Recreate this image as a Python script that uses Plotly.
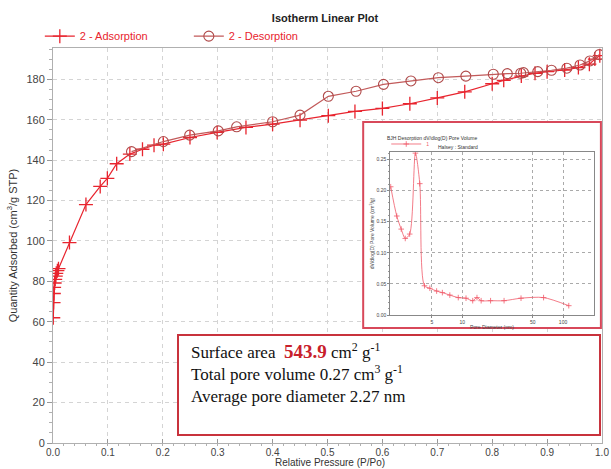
import plotly.graph_objects as go

# ---- main isotherm data ----
ads_p = [0.0005, 0.001, 0.0015, 0.002, 0.003, 0.004, 0.005, 0.006, 0.008, 0.010,
         0.030, 0.060, 0.086, 0.099, 0.116, 0.140, 0.163, 0.184, 0.201, 0.2495,
         0.299, 0.3515, 0.400, 0.450, 0.5015, 0.550, 0.600, 0.650, 0.700, 0.750,
         0.800, 0.821, 0.853, 0.878, 0.900, 0.932, 0.957, 0.977, 0.987, 0.996]
ads_q = [62.0, 69.5, 74.0, 77.0, 79.2, 81.0, 82.6, 84.0, 85.3, 86.3,
         99.2, 118.0, 127.0, 131.0, 138.2, 143.0, 145.4, 147.4, 147.9, 151.2,
         153.7, 156.2, 157.8, 159.8, 162.0, 164.1, 165.6, 167.9, 170.8, 173.8,
         177.8, 179.5, 181.6, 183.0, 183.8, 184.6, 185.8, 187.5, 190.0, 191.7]

des_p = [0.995, 0.978, 0.960, 0.936, 0.908, 0.883, 0.857, 0.852, 0.8275, 0.802,
         0.752, 0.702, 0.652, 0.602, 0.552, 0.5015, 0.450, 0.400, 0.3345, 0.301,
         0.249, 0.201, 0.143]
des_q = [192.2, 189.1, 187.1, 185.5, 184.5, 183.8, 183.3, 183.0, 182.8, 182.5,
         181.6, 180.8, 179.2, 177.5, 174.1, 171.6, 162.3, 159.0, 156.5, 154.5,
         152.4, 149.2, 144.2]

# ---- inset BJH pore distribution ----
pore_d = [1.95, 2.24, 2.48, 2.72, 3.01, 3.43, 3.79, 4.22, 4.77, 5.57, 6.35, 7.53,
          9.13, 10.9, 12.7, 14.0, 15.4, 19.1, 26.0, 38.3, 64.1, 114]
pore_v = [0.206, 0.159, 0.138, 0.123, 0.130, 0.260, 0.211, 0.047, 0.043, 0.0385,
          0.036, 0.032, 0.028, 0.027, 0.023, 0.028, 0.023, 0.023, 0.023, 0.027,
          0.028, 0.015]

x_ticks = [0.0, 0.1, 0.2, 0.3, 0.4, 0.5, 0.6, 0.7, 0.8, 0.9, 1.0]
y_ticks = [0, 20, 40, 60, 80, 100, 120, 140, 160, 180]
inset_x_ticks = [5, 10, 50, 100]
inset_y_ticks = [0.00, 0.05, 0.10, 0.15, 0.20, 0.25]

Y_MAX = 195.5
RED = "#e8242e"
BROWN = "#b04a4a"
GRID = "#d4d4d4"
FONT = "Liberation Sans"

fig = go.Figure()

fig.add_trace(go.Scatter(
    x=ads_p, y=ads_q, mode="lines+markers", name="2 - Adsorption",
    line=dict(color=RED, width=1.2),
    marker=dict(symbol="cross-thin", size=10, line=dict(color=RED, width=1.3)),
))
fig.add_trace(go.Scatter(
    x=des_p, y=des_q, mode="lines+markers", name="2 - Desorption",
    line=dict(color="#c25a5a", width=1.2),
    marker=dict(symbol="circle-open", size=10, color=BROWN, line=dict(color=BROWN, width=1.1)),
))

fig.add_trace(go.Scatter(
    x=pore_d, y=pore_v, xaxis="x2", yaxis="y2", mode="lines+markers", name="1",
    legend="legend2",
    line=dict(color="#f05a6a", width=0.8, shape="spline", smoothing=0.8),
    marker=dict(symbol="cross-thin", size=4, line=dict(color="#f05a6a", width=0.8)),
))

fig.update_layout(
    width=611, height=469,
    margin=dict(l=53, r=9, t=48, b=26, autoexpand=False),
    paper_bgcolor="white", plot_bgcolor="white",
    font=dict(family=FONT, size=11, color="#333333"),
    title=dict(text="<b>Isotherm Linear Plot</b>", x=0.532, xref="container",
               xanchor="center", y=0.962, yref="container", yanchor="middle",
               font=dict(family=FONT, size=11, color="#222222")),
    legend=dict(orientation="h", x=-0.024, y=1.030, xanchor="left", yanchor="middle",
                font=dict(family=FONT, size=11, color=RED), entrywidth=104,
                bgcolor="rgba(0,0,0,0)", itemwidth=30),
    legend2=dict(x=0.607, y=0.757, xanchor="left", yanchor="middle",
                 font=dict(family=FONT, size=5, color="#f05a6a"),
                 bgcolor="rgba(0,0,0,0)", itemwidth=30, tracegroupgap=0),
    xaxis=dict(range=[0, 1.0], tickvals=x_ticks, ticktext=[f"{v:.1f}" for v in x_ticks],
               showgrid=True, gridcolor=GRID, griddash="4px,4px", gridwidth=1,
               showline=True, linecolor="#b0b0b0", linewidth=1, mirror=True,
               ticks="inside", ticklen=4, tickcolor="#999999", zeroline=False,
               minor=dict(dtick=0.02, ticks="outside", ticklen=2, tickcolor="#b0b0b0", showgrid=False),
               tickfont=dict(size=10, color="#444444"),
               automargin=False),
    yaxis=dict(range=[0, Y_MAX], tickvals=y_ticks,
               showgrid=True, gridcolor=GRID, griddash="4px,4px", gridwidth=1,
               showline=True, linecolor="#b0b0b0", linewidth=1, mirror=True,
               ticks="outside", ticklen=5, tickcolor="#999999", zeroline=False,
               minor=dict(dtick=5, ticks="outside", ticklen=3, tickcolor="#b0b0b0", showgrid=False),
               tickfont=dict(size=11, color="#444444"),
               title=dict(text="Quantity Adsorbed (cm<sup>3</sup>/g STP)", standoff=6,
                          font=dict(size=11, color="#333333")),
               automargin=False),
    xaxis2=dict(type="log", range=[0.284, 2.305], domain=[0.614, 0.985], anchor="y2",
                tickvals=inset_x_ticks, ticktext=[str(v) for v in inset_x_ticks],
                showgrid=True, gridcolor="#aaaaaa", griddash="dot", gridwidth=0.6,
                showline=True, linecolor="#888888", linewidth=0.6, mirror=True,
                ticks="outside", ticklen=2, tickcolor="#888888",
                tickfont=dict(size=5, color="#444444"),
                title=dict(text="Pore Diameter (nm)", standoff=1, font=dict(size=5, color="#444444")),
                automargin=False),
    yaxis2=dict(range=[0, 0.262], domain=[0.324, 0.737], anchor="x2",
                tickvals=inset_y_ticks, tickformat=".2f",
                showgrid=True, gridcolor="#aaaaaa", griddash="dot", gridwidth=0.6,
                showline=True, linecolor="#888888", linewidth=0.6, mirror=True,
                ticks="outside", ticklen=2, tickcolor="#888888", zeroline=False,
                minor=dict(dtick=0.01, ticks="outside", ticklen=1, tickcolor="#999999", showgrid=False),
                tickfont=dict(size=5, color="#444444"),
                title=dict(text="dV/dlog(D) Pore Volume (cm<sup>3</sup>/g)", standoff=1,
                           font=dict(size=5, color="#444444")),
                automargin=False),
)

# x-axis title placed just below the tick labels
fig.add_annotation(text="Relative Pressure (P/Po)", xref="paper", yref="paper",
                   x=0.505, y=-0.0505, xanchor="center", yanchor="middle", showarrow=False,
                   font=dict(family=FONT, size=10, color="#333333"))

# white boxes with red borders (drawn above main grid, below traces)
fig.add_shape(type="rect", xref="x", yref="y",
              x0=0.565, x1=0.998, y0=0.291 * Y_MAX, y1=0.8127 * Y_MAX, layer="between",
              fillcolor="white", line=dict(color="#d8485a", width=2))
fig.add_shape(type="rect", xref="x", yref="y",
              x0=0.2277, x1=0.9964, y0=0.0203 * Y_MAX, y1=0.2734 * Y_MAX, layer="between",
              fillcolor="white", line=dict(color="#c8323c", width=2))

# inset titles
fig.add_annotation(text="BJH Desorption dV/dlog(D) Pore Volume", xref="paper", yref="paper",
                   x=0.778, y=0.785, showarrow=False, font=dict(size=5, color="#333333"))
fig.add_annotation(text="Halsey : Standard", xref="paper", yref="paper",
                   x=0.778, y=0.762, showarrow=False, font=dict(size=5, color="#333333"))

# text box content
fig.add_annotation(
    text=("Surface area  <b><span style='color:#c8202a;font-size:19px'>543.9</span></b> cm<sup>2</sup> g<sup>-1</sup><br>"
          "Total pore volume 0.27 cm<sup>3</sup> g<sup>-1</sup><br>"
          "Average pore diameter 2.27 nm"),
    xref="paper", yref="paper", x=0.248, y=0.266, xanchor="left", yanchor="top",
    align="left", showarrow=False,
    font=dict(family="Liberation Serif", size=17, color="#111111"),
)

fig.write_html("out.html", config={"displayModeBar": False})

# remove the default page margin so the figure sits at the window's top-left corner
with open("out.html", "r", encoding="utf-8") as f:
    html = f.read()
html = html.replace("<head>", "<head><style>html,body{margin:0;padding:0;overflow:hidden;}</style>", 1)
with open("out.html", "w", encoding="utf-8") as f:
    f.write(html)
